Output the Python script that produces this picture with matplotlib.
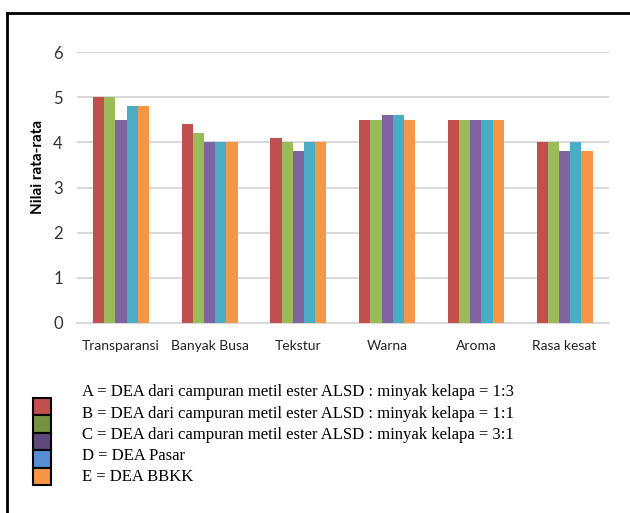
import matplotlib.pyplot as plt
import numpy as np
from matplotlib.patches import Rectangle
from matplotlib.lines import Line2D

categories = ['Transparansi', 'Banyak Busa', 'Tekstur', 'Warna', 'Aroma', 'Rasa kesat']
series_a = [5.0, 4.4, 4.1, 4.5, 4.5, 4.0]
series_b = [5.0, 4.2, 4.0, 4.5, 4.5, 4.0]
series_c = [4.5, 4.0, 3.8, 4.6, 4.5, 3.8]
series_d = [4.8, 4.0, 4.0, 4.6, 4.5, 4.0]
series_e = [4.8, 4.0, 4.0, 4.5, 4.5, 3.8]
yticks = [0, 1, 2, 3, 4, 5, 6]

legend_texts = [
    'A = DEA dari campuran metil ester ALSD : minyak kelapa = 1:3',
    'B = DEA dari campuran metil ester ALSD : minyak kelapa = 1:1',
    'C = DEA dari campuran metil ester ALSD : minyak kelapa = 3:1',
    'D = DEA Pasar',
    'E = DEA BBKK',
]

bar_colors = ['#C0504D', '#9BBB59', '#8064A2', '#4BACC6', '#F79646']
key_colors = ['#C0504D', '#76923C', '#5F497A', '#558ED5', '#F79646']

sans = ['Lato', 'DejaVu Sans']
serif = ['Liberation Serif', 'DejaVu Serif']

fig = plt.figure(figsize=(6.3, 5.13), dpi=100)
ax = fig.add_axes([0.1216, 0.3704, 0.845, 0.528])

x = np.arange(len(categories))
w = 0.126
all_series = [series_a, series_b, series_c, series_d, series_e]
for i, vals in enumerate(all_series):
    ax.bar(x + (i - 2) * w, vals, width=w, color=bar_colors[i], zorder=3)

ax.set_xlim(-0.5, len(categories) - 0.5)
ax.set_ylim(0, 6)
ax.set_yticks(yticks)
ax.set_yticklabels([str(t) for t in yticks], family=sans, fontsize=12, color='#333333')
ax.set_xticks(x)
ax.set_xticklabels(categories, family=sans, fontsize=10, color='#222222')
ax.tick_params(length=0, pad=10)
ax.tick_params(axis='x', pad=12)
ax.grid(axis='y', color='#D9D9D9', linewidth=1.5, zorder=0)
for s in ['top', 'right', 'left']:
    ax.spines[s].set_visible(False)
ax.spines['bottom'].set_color('#D9D9D9')
ax.spines['bottom'].set_linewidth(1.5)
ax.set_ylabel('Nilai rata-rata', family=sans, fontsize=11, fontweight='bold')
ax.yaxis.set_label_coords(-0.0725, 0.576)
ax.yaxis.label.set_va('center')

# colour key and descriptions below the chart
W, H = 630, 513
key_top = 398
key_h = 17.4
for i, c in enumerate(key_colors):
    y0 = key_top + i * key_h
    fig.patches.append(Rectangle((33 / W, 1 - (y0 + key_h) / H), 18 / W, key_h / H,
                                 transform=fig.transFigure, facecolor=c,
                                 edgecolor='black', linewidth=1.5))
text_y = [392, 414, 435, 456, 477]
for t, yy in zip(legend_texts, text_y):
    fig.text(82 / W, 1 - yy / H, t, family=serif, fontsize=12, va='center', ha='left')

# frame lines on the left and top
fig.add_artist(Line2D([7 / W, 7 / W], [0, 1 - 13 / H], transform=fig.transFigure,
                      color='black', linewidth=2))
fig.add_artist(Line2D([7 / W, 1], [1 - 13 / H, 1 - 13 / H], transform=fig.transFigure,
                      color='black', linewidth=2))

fig.savefig('out.png', dpi=100)
